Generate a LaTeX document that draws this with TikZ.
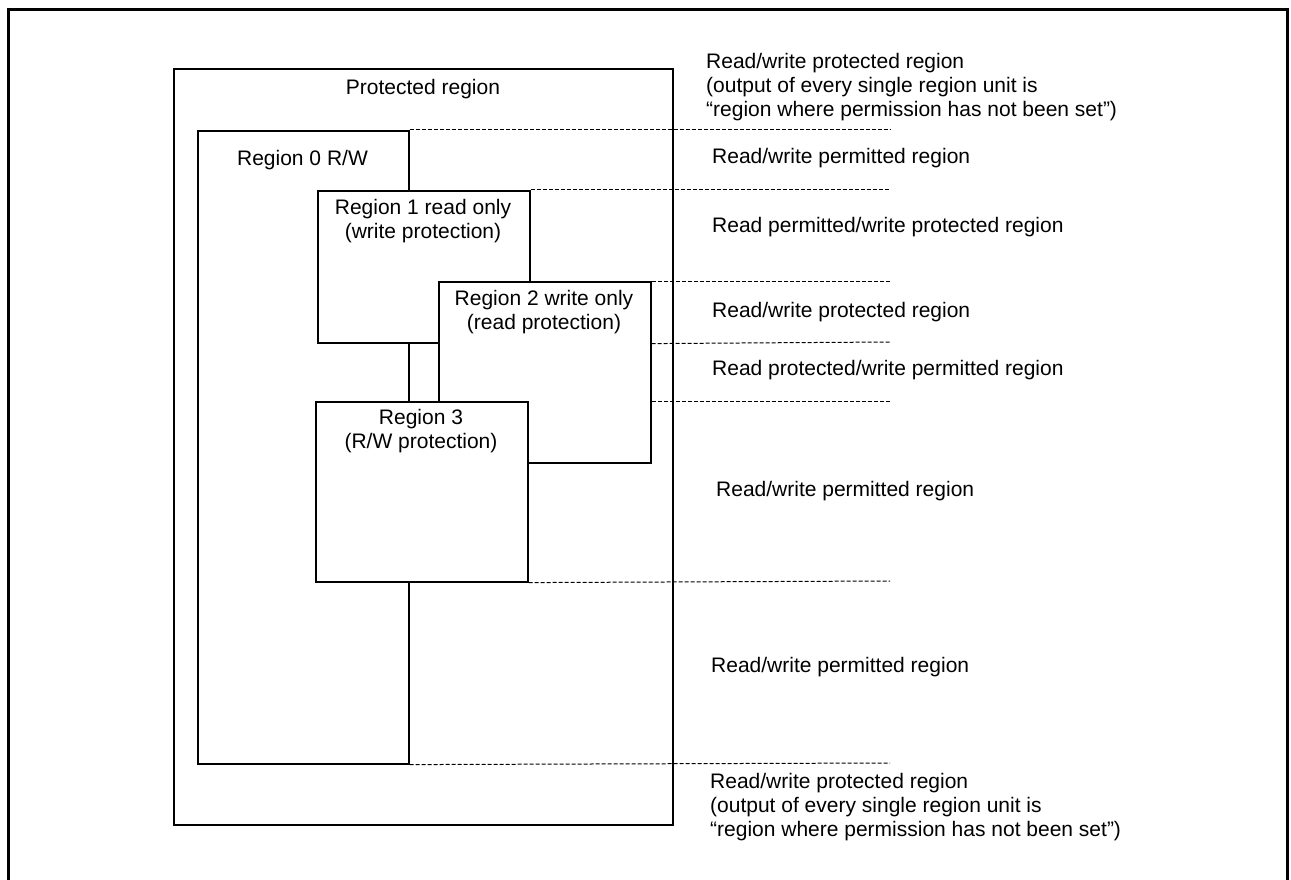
\documentclass[tikz,border=0pt]{standalone}
\usepackage{fontspec}
\setmainfont{Liberation Sans}
\begin{document}
\begin{tikzpicture}[x=1pt,y=-1pt,
  box/.style={draw=black,line width=1.6pt,fill=white,inner sep=0pt,anchor=north west},
  dashline/.style={line width=1pt,dash pattern=on 4pt off 2pt},
  lbl/.style={inner sep=0pt,font=\fontsize{21}{24}\selectfont,align=center},
  side/.style={inner sep=0pt,font=\fontsize{21}{24}\selectfont,align=left,anchor=west}]
\useasboundingbox (0,0) rectangle (1291,880);
% outer frame (open at bottom)
\draw[line width=3pt] (8,881) -- (8,10) -- (1287,10) -- (1287,881);
% boxes
\node[box,minimum width=499pt,minimum height=756pt] (prot) at (173,68) {};
\node[box,minimum width=211pt,minimum height=633pt] (r0) at (197,130) {};
\node[box,minimum width=212pt,minimum height=152pt] (r1) at (317,190) {};
\node[box,minimum width=212pt,minimum height=181pt] (r2) at (438,281) {};
\node[box,minimum width=212pt,minimum height=180pt] (r3) at (315,401) {};
% box labels
\node[lbl] (tprot) at (423,89) {Protected region};
\node[lbl] (t0) at (302.5,160) {Region 0 R/W};
\node[lbl] (t1) at (423,221) {Region 1 read only\\(write protection)};
\node[lbl] (t2) at (544,312) {Region 2 write only\\(read protection)};
\node[lbl] (t3) at (421,431) {Region 3\\(R/W protection)};
% dashed end points
\coordinate (e1) at (890,130);
\coordinate (e2) at (890,190);
\coordinate (e3) at (890,281);
\coordinate (e4) at (890,342);
\coordinate (e5) at (890,401);
\coordinate (e6) at (890,581);
\coordinate (e7) at (890,763);
\draw[dashline] (r0.north east) -- (e1);
\draw[dashline] (r1.north east) -- (e2);
\draw[dashline] (r2.north east) -- (e3);
\draw[dashline] (r2.east |- r1.south) -- (e4);
\draw[dashline] (r2.east |- r3.north) -- (e5);
\draw[dashline] (r3.south east) -- (e6);
\draw[dashline] (r0.south east) -- (e7);
% side labels
\node[side] (s0) at (706,87) {Read/write protected region\\(output of every single region unit is\\“region where permission has not been set”)};
\node[side] (s1) at (712,158) {Read/write permitted region};
\node[side] (s2) at (712,227) {Read permitted/write protected region};
\node[side] (s3) at (712,312) {Read/write protected region};
\node[side] (s4) at (712,370) {Read protected/write permitted region};
\node[side] (s5) at (716,491) {Read/write permitted region};
\node[side] (s6) at (711,667) {Read/write permitted region};
\node[side] (s7) at (710,807) {Read/write protected region\\(output of every single region unit is\\“region where permission has not been set”)};
\end{tikzpicture}
\end{document}
